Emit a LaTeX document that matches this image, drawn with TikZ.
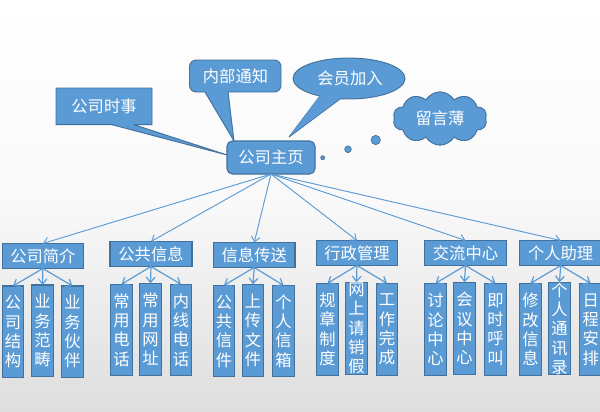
\documentclass[tikz,border=0pt]{standalone}
\usepackage{fontspec}
\setmainfont{Noto Sans CJK SC}
\usetikzlibrary{arrows.meta,shapes.symbols}
\definecolor{boxfill}{HTML}{5B9BD5}
\definecolor{boxline}{HTML}{41719C}
\tikzset{
  x=.75pt,y=-.75pt,
  txt/.style={font=\fontsize{12.2}{14.5}\selectfont,text=white,align=center,inner sep=0pt,outer sep=0pt},
  boxstyle/.style={txt,draw=boxline,fill=boxfill,line width=.8pt},
  shapeoutline/.style={draw=boxline,fill=boxfill,line width=.7pt,line join=round},
  link/.style={draw=boxfill,line width=.7pt,-{Straight Barb[length=4pt,width=6.5pt]}},
  sublink/.style={draw=boxfill,line width=.9pt,-{Straight Barb[length=4pt,width=6.5pt]}},
  dot/.style={circle,fill=boxfill,draw=boxline,line width=.5pt,inner sep=0pt}
}
\newcommand{\bx}[6]{% name x1 y1 x2 y2 text
  \pgfmathsetmacro{\bw}{(#4-#2)*.75}\pgfmathsetmacro{\bh}{(#5-#3)*.75}
  \node[boxstyle,minimum width=\bw pt,minimum height=\bh pt] (#1) at ({(#2+#4)/2},{(#3+#5)/2}) {#6};}
\begin{document}
\begin{tikzpicture}
\useasboundingbox (0,0) rectangle (600,411);
\clip (0,0) rectangle (600,411);
\shade[top color=white,bottom color=black!13,middle color=black!2.5] (0,0) rectangle (600,411);

% callouts
\path[shapeoutline] (56,88) -- (152,88) -- (152,124.7) -- (134,124.7) -- (227,155) -- (112,124.7) -- (56,124.7) -- cycle;
\node[txt] (news) at (104,106) {公司时事};
\path[shapeoutline] (205,92) [rounded corners=5pt] -- (189.5,92) -- (189.5,60) -- (281,60) -- (281,92) [sharp corners] -- (228,92) -- (234,141) -- cycle;
\node[txt] (notice) at (235.5,76) {内部通知};
\path[shapeoutline] (349,78.5) ellipse [x radius=56,y radius=20.5];
\path[shapeoutline] (320,96) -- (289,137) -- (340,99);
\fill[boxfill] (320,95.6) -- (289.8,136) -- (340,98.4) -- (340,90) -- (320,90) -- cycle;
\node[txt] (member) at (350,78.5) {会员加入};

% cloud and dots
\node[cloud,cloud puffs=10,cloud puff arc=120,aspect=1.8,shapeoutline,txt,draw=boxline,fill=boxfill,minimum width=70.5pt,minimum height=40pt] (guest) at (440,118.5) {留言薄};
\node[dot,minimum size=3pt] (d1) at (322.7,157.7) {};
\node[dot,minimum size=5pt] (d2) at (348,149.3) {};
\node[dot,minimum size=7pt] (d3) at (375.7,140) {};

% home
\node[boxstyle,rounded corners=4pt,minimum width=66pt,minimum height=24.75pt] (home) at (271,157.5) {公司主页};

% first level
\bx{a}{2.3}{243.5}{83.5}{268.5}{公司简介}
\bx{b}{110}{241.5}{192}{266.5}{公共信息}
\bx{c}{213.5}{242.5}{295}{267.5}{信息传送}
\bx{d}{316.3}{240.5}{397.7}{265.5}{行政管理}
\bx{e}{424.3}{240.5}{506.7}{265.5}{交流中心}
\bx{f}{519.3}{240.5}{602}{265.5}{个人助理}

% leaves
\bx{a1}{2.3}{286}{23.7}{377.7}{公\\司\\结\\构}
\bx{a2}{31.3}{285}{53.7}{376.7}{业\\务\\范\\畴}
\bx{a3}{61.3}{286}{83.7}{377.7}{业\\务\\伙\\伴}
\bx{b1}{110.3}{284.3}{132.7}{375.7}{常\\用\\电\\话}
\bx{b2}{139.3}{283.3}{161.7}{375.7}{常\\用\\网\\址}
\bx{b3}{170.3}{284.3}{191.7}{375.7}{内\\线\\电\\话}
\bx{c1}{213.3}{285.3}{234.7}{376.7}{公\\共\\信\\件}
\bx{c2}{242.3}{284.3}{263.7}{376.7}{上\\传\\文\\件}
\bx{c3}{272.3}{285.3}{294.7}{376.7}{个\\人\\信\\箱}
\bx{d1l}{316.3}{283.3}{338.7}{375.7}{规\\章\\制\\度}
\bx{d2l}{345.3}{282.3}{367.7}{374.7}{网\\上\\请\\销\\假}
\bx{d3l}{376.3}{283.3}{397.7}{375.7}{工\\作\\完\\成}
\bx{e1}{424.3}{283.3}{446.7}{375.7}{讨\\论\\中\\心}
\bx{e2}{453.3}{282.3}{475.7}{374.7}{会\\议\\中\\心}
\bx{e3}{484.3}{283.3}{506.7}{375.7}{即\\时\\呼\\叫}
\bx{f1}{519.3}{283.3}{541.7}{375.7}{修\\改\\信\\息}
\bx{f2}{548.3}{282.3}{570.7}{374.7}{个\\人\\通\\讯\\录}
\bx{f3}{579.3}{283.3}{602}{375.7}{日\\程\\安\\排}

% connectors
\foreach \t in {a,b,c,d,e,f} \draw[link] (home.south) -- (\t.north);
\foreach \p/\t in {a/a1,a/a2,a/a3,b/b1,b/b2,b/b3,c/c1,c/c2,c/c3,d/d1l,d/d2l,d/d3l,e/e1,e/e2,e/e3,f/f1,f/f2,f/f3}
  \draw[sublink] (\p.south) -- (\t.north);
\end{tikzpicture}
\end{document}
